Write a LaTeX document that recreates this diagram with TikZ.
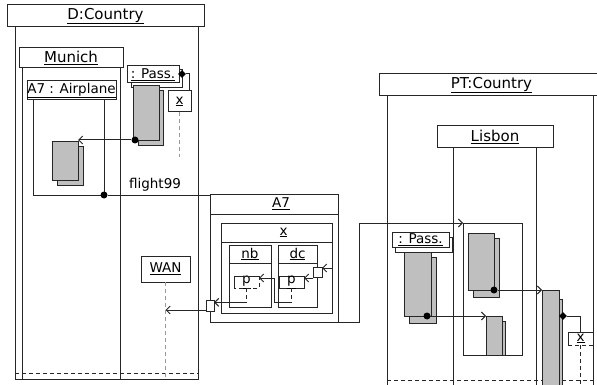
\documentclass[tikz,border=0pt]{standalone}
\usepackage{fontspec}
\setmainfont{DejaVu Sans}
\usetikzlibrary{arrows.meta,shapes.geometric}

\begin{document}
\begin{tikzpicture}[x=1pt,y=-1pt,line join=miter,
  >={Straight Barb[length=4pt,width=8pt]},
  every node/.style={font=\fontsize{13.5}{16}\selectfont},
  box/.style={draw=black!85,line width=1pt,fill=white,inner sep=0pt,
    outer sep=0pt,anchor=north west},
  hollow/.style={box,fill=none},
  greybox/.style={box,fill=black!25},
  big/.style={font=\fontsize{15}{18}\selectfont},
  wire/.style={draw=black!85,line width=1pt},
  broken/.style={dash pattern=on 4pt off 3pt},
  life/.style={draw=black!40,line width=1pt,broken},
  dot/.style={circle,fill=black,inner sep=0pt,minimum size=7pt},
  jewel/.style={diamond,fill=black,inner sep=0pt,minimum size=8pt}]
  \useasboundingbox (0,0) rectangle (597,385);
  \clip (0,0) rectangle (597,385);

  % D:Country with Munich
  \node[hollow,minimum width=183pt,minimum height=352pt] (dbody) at (15,27) {};
  \draw[wire,broken] (15,373) -- (198,373);
  \node[box,big,minimum width=197pt,minimum height=22pt] (dhead) at (7,5)
    {\underline{D:Country}};
  \node[hollow,minimum width=98pt,minimum height=311pt] (mbody) at (22,68) {};
  \node[box,big,minimum width=104pt,minimum height=20pt] (mhead) at (19,48)
    {\underline{Munich}};

  % airplane part
  \node[hollow,minimum width=71pt,minimum height=95pt] (abody) at (33,100) {};
  \node[box,minimum width=89pt,minimum height=19pt] (ahead) at (27,81)
    {\underline{A7 : Airplane}};
  \node[greybox,minimum width=26pt,minimum height=38pt] (seatB) at (57,147) {};
  \node[greybox,minimum width=26pt,minimum height=38pt] (seatF) at (52,142) {};

  % passengers in Munich
  \node[box,minimum width=51pt,minimum height=18pt] (dpassHB) at (131,70) {};
  \node[box,minimum width=52pt,minimum height=17pt] (dpassH) at (127,66)
    {\underline{: Pass.}};
  \node[greybox,minimum width=25pt,minimum height=55pt] (dpassB) at (138,91) {};
  \node[greybox,minimum width=26pt,minimum height=55pt] (dpassF) at (133,86) {};
  \node[dot] (ddot) at (135,140) {};
  \draw[wire,->] (ddot) -- (ddot -| seatF.east);
  \node[jewel] (djewel) at (182,74) {};
  \node[box,minimum width=23pt,minimum height=21pt] (dx) at (168,91)
    {\underline{x}};
  \draw[wire] (djewel) -| ([xshift=-2pt]dx.north east);
  \draw[life] (dx.south) -- ++(0,45);

  \node (flight) at (155,185) {flight99};
  \node[dot] (fdot) at (abody.south east) {};

  \node[box,minimum width=49pt,minimum height=26pt] (wan) at (141,256)
    {\underline{WAN}};
  \draw[life] (wan.south) -- (wan.south |- dbody.south);

  % A7 with its parts
  \node[box,minimum width=128pt,minimum height=108pt] (a7body) at (210,214) {};
  \node[box,minimum width=128pt,minimum height=20pt] (a7head) at (210,194) {};
  \node (a7name) at ([xshift=7pt]a7head.center) {\underline{A7}};
  \draw[wire] (fdot) -- (fdot -| a7head.west);
  \node[box,minimum width=111pt,minimum height=71pt] (xbody) at (221,242) {};
  \node[box,minimum width=111pt,minimum height=19pt] (xhead) at (221,223) {};
  \node (xname) at ([xshift=7pt]xhead.center) {\underline{x}};
  \node[box,minimum width=42pt,minimum height=44pt] (nbbody) at (229,263) {};
  \node[box,minimum width=42pt,minimum height=18pt] (nbhead) at (229,245)
    {\underline{nb}};
  \node[box,minimum width=39pt,minimum height=44pt] (dcbody) at (278,263) {};
  \node[box,minimum width=39pt,minimum height=18pt] (dchead) at (278,245)
    {\underline{dc}};
  \node[box,draw=none,minimum width=25pt,minimum height=12pt] (nbp) at (234,276)
    {\underline{p}};
  \draw[wire] (nbp.south west) -- (nbp.north west) -- (nbp.north east);
  \draw[wire,broken] (nbp.north east) -- (nbp.south east) -- (nbp.south west);
  \node[box,minimum width=25pt,minimum height=12pt] (dcp) at (279,276)
    {\underline{p}};
  \node[box,minimum width=9pt,minimum height=10pt] (dcport) at (313,267) {};
  \node[box,minimum width=8pt,minimum height=11pt] (a7port) at (206,300) {};

  \draw[wire,<-] ([yshift=-1pt]dcport.north east)
    -- ([yshift=-1pt]dcport.north -| xbody.east);
  \draw[wire,->] ([yshift=-1pt]dcport.south west)
    -- ([yshift=-1pt]dcport.south west -| dcp.east);
  \draw[wire,broken] (dcp.south) -- ++(0,14) coordinate (dcq);
  \draw[wire,->] (dcq) -- ([xshift=3pt]dcq -| nbbody.east)
    |- ([yshift=-2pt]nbp.north east);
  \draw[wire,broken] (nbp.south) -- ++(0,14) coordinate (nbq);
  \draw[wire,->] (nbq) -- (nbq -| a7port.east);
  \draw[wire,->] ([yshift=1pt]a7port.south west)
    -- ([yshift=1pt]a7port.south west -| wan.south);

  % PT:Country with Lisbon
  \node[hollow,minimum width=206pt,minimum height=300pt] (ptbody) at (387,96) {};
  \draw[wire,broken] (ptbody.west |- 0,380) -- (ptbody.east |- 0,380);
  \node[box,big,minimum width=225pt,minimum height=22pt] (pthead) at (379,74)
    {\underline{PT:Country}};
  \node[hollow,minimum width=83pt,minimum height=250pt] (lbody) at (453,148) {};
  \node[box,big,minimum width=116pt,minimum height=22pt] (lhead) at (437,126)
    {\underline{Lisbon}};
  \draw[wire,->] (a7body.south east) -- ++(21,0) |- (463,223) coordinate (inNW);

  % passengers in Lisbon
  \node[box,minimum width=57pt,minimum height=15pt] (ppassHB) at (395,237) {};
  \node[box,minimum width=57pt,minimum height=15pt] (ppassH) at (392,232)
    {\underline{: Pass.}};
  \node[greybox,minimum width=27pt,minimum height=66pt] (ppassB) at (409,257) {};
  \node[greybox,minimum width=27pt,minimum height=64pt] (ppassF) at (404,252) {};
  \node[dot] (pdot) at (427,316) {};

  \node[greybox,minimum width=26pt,minimum height=59pt] (upB) at (473,238) {};
  \node[greybox,minimum width=26pt,minimum height=57pt] (upF) at (468,233) {};
  \node[greybox,minimum width=15pt,minimum height=34pt] (lowB) at (490,321) {};
  \node[greybox,minimum width=16pt,minimum height=39pt] (lowF) at (486,316) {};
  \node[hollow,minimum width=59pt,minimum height=132pt] (inbox) at (inNW) {};
  \node[dot] (udot) at (upF.south east) {};
  \draw[wire,->] (pdot) -- (pdot -| lowF.west);

  \node[greybox,minimum width=15pt,minimum height=91pt] (tallB) at (547,299) {};
  \node[greybox,minimum width=17pt,minimum height=100pt] (tallF) at (542,290) {};
  \draw[wire,->] (udot) -- (udot -| tallF.west);
  \node[jewel] (pjewel) at (563,316) {};
  \node[box,draw=none,minimum width=25pt,minimum height=13pt] (px) at (568,332)
    {\underline{x}};
  \draw[wire] (px.south west) -- (px.north west) -- (px.north east)
    -- (px.south east);
  \draw[wire,broken] (px.south west) -- (px.south east);
  \draw[wire] (pjewel) -| (px.north);
  \draw[wire,broken] (px.south) -- ++(0,50);
\end{tikzpicture}
\end{document}
